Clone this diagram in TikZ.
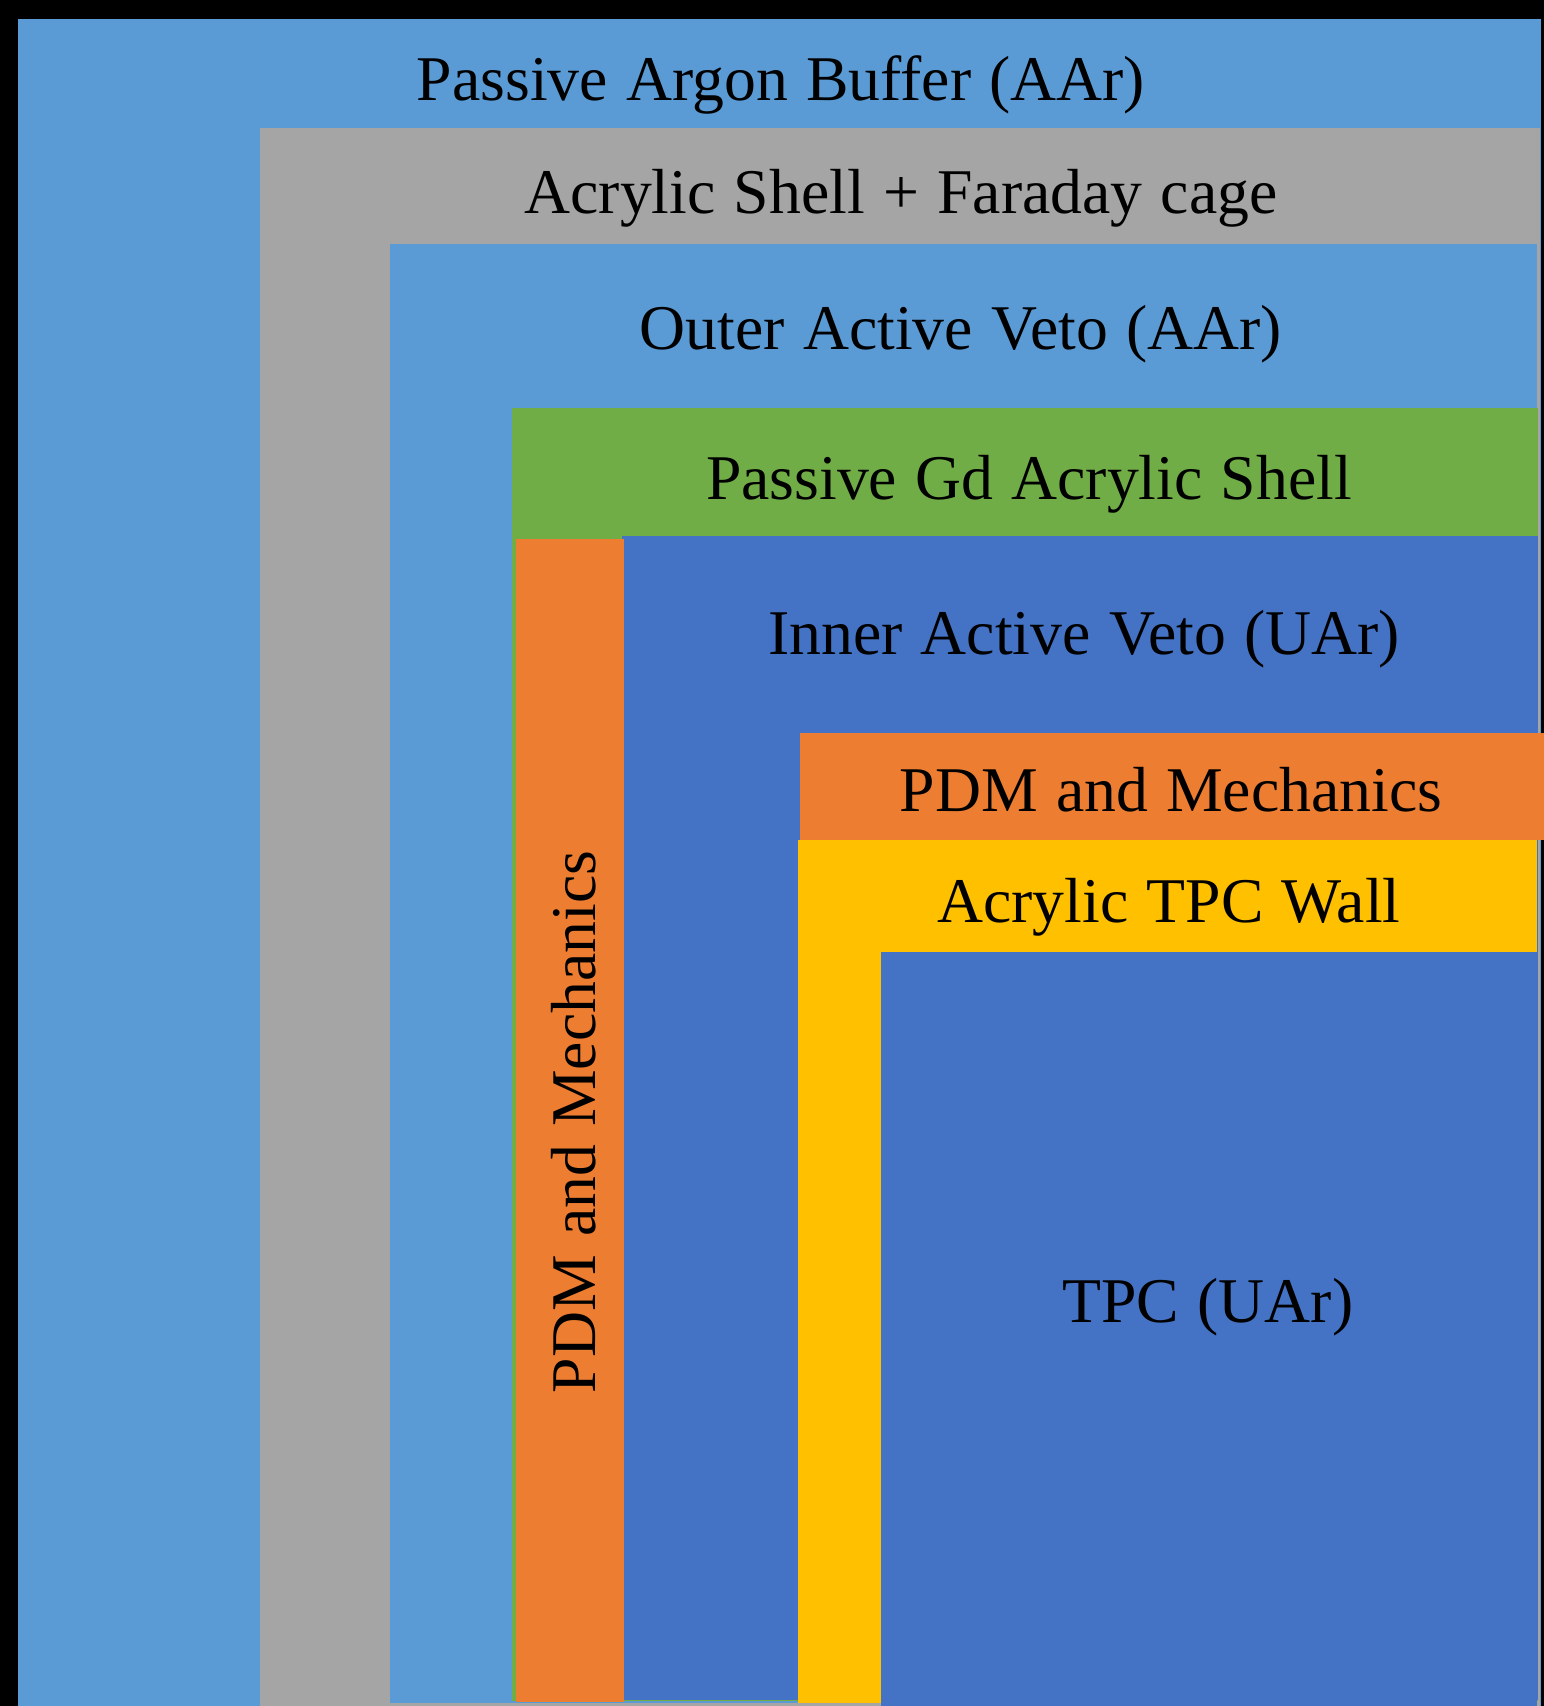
\documentclass[tikz,border=0pt]{standalone}
\usepackage{fontspec}
\setmainfont[WordSpace=1.15]{Liberation Serif}
\definecolor{lightblue}{HTML}{5B9BD5}
\definecolor{shellgray}{HTML}{A5A5A5}
\definecolor{gdgreen}{HTML}{70AD47}
\definecolor{pdmorange}{HTML}{ED7D31}
\definecolor{uarblue}{HTML}{4472C4}
\definecolor{wallyellow}{HTML}{FFC000}
\begin{document}
\begin{tikzpicture}[x=1pt,y=-1pt,
  layerlabel/.style={anchor=base,inner sep=0pt,font=\fontsize{63.7}{70}\selectfont,text=black}]
\useasboundingbox (0,0) rectangle (1544,1706);
% background frame
\fill[black] (0,0) rectangle (1544,1706);
% nested layers, outermost first
\fill[lightblue]  (18,19)   rectangle (1541,1706);
\fill[shellgray]  (260,128) rectangle (1540,1706);
\fill[lightblue]  (390,244) rectangle (1537,1703);
\fill[gdgreen]    (512,408) rectangle (1538,1701);
\fill[uarblue]    (622,536) rectangle (1538,1700);
\fill[pdmorange]  (516,539) rectangle (624,1702);
\fill[pdmorange]  (800,733) rectangle (1544,840);
\fill[wallyellow] (798,840) rectangle (1537,1703);
\fill[uarblue]    (881,952) rectangle (1537,1706);
% labels
\node[layerlabel] (buffer) at (781,100)  {Passive Argon Buffer (AAr)};
\node[layerlabel] (shell)  at (901,213)  {Acrylic Shell + Faraday cage};
\node[layerlabel] (outer)  at (961,349)  {Outer Active Veto (AAr)};
\node[layerlabel] (gd)     at (1029,499) {Passive Gd Acrylic Shell};
\node[layerlabel] (inner)  at (1084,654) {Inner Active Veto (UAr)};
\node[layerlabel] (pdmtop) at (1171,811) {PDM and Mechanics};
\node[layerlabel] (wall)   at (1169,922) {Acrylic TPC Wall};
\node[layerlabel] (tpc)    at (1208,1322) {TPC (UAr)};
\node[layerlabel,rotate=90] (pdmside) at (595,1122) {PDM and Mechanics};
\end{tikzpicture}
\end{document}
